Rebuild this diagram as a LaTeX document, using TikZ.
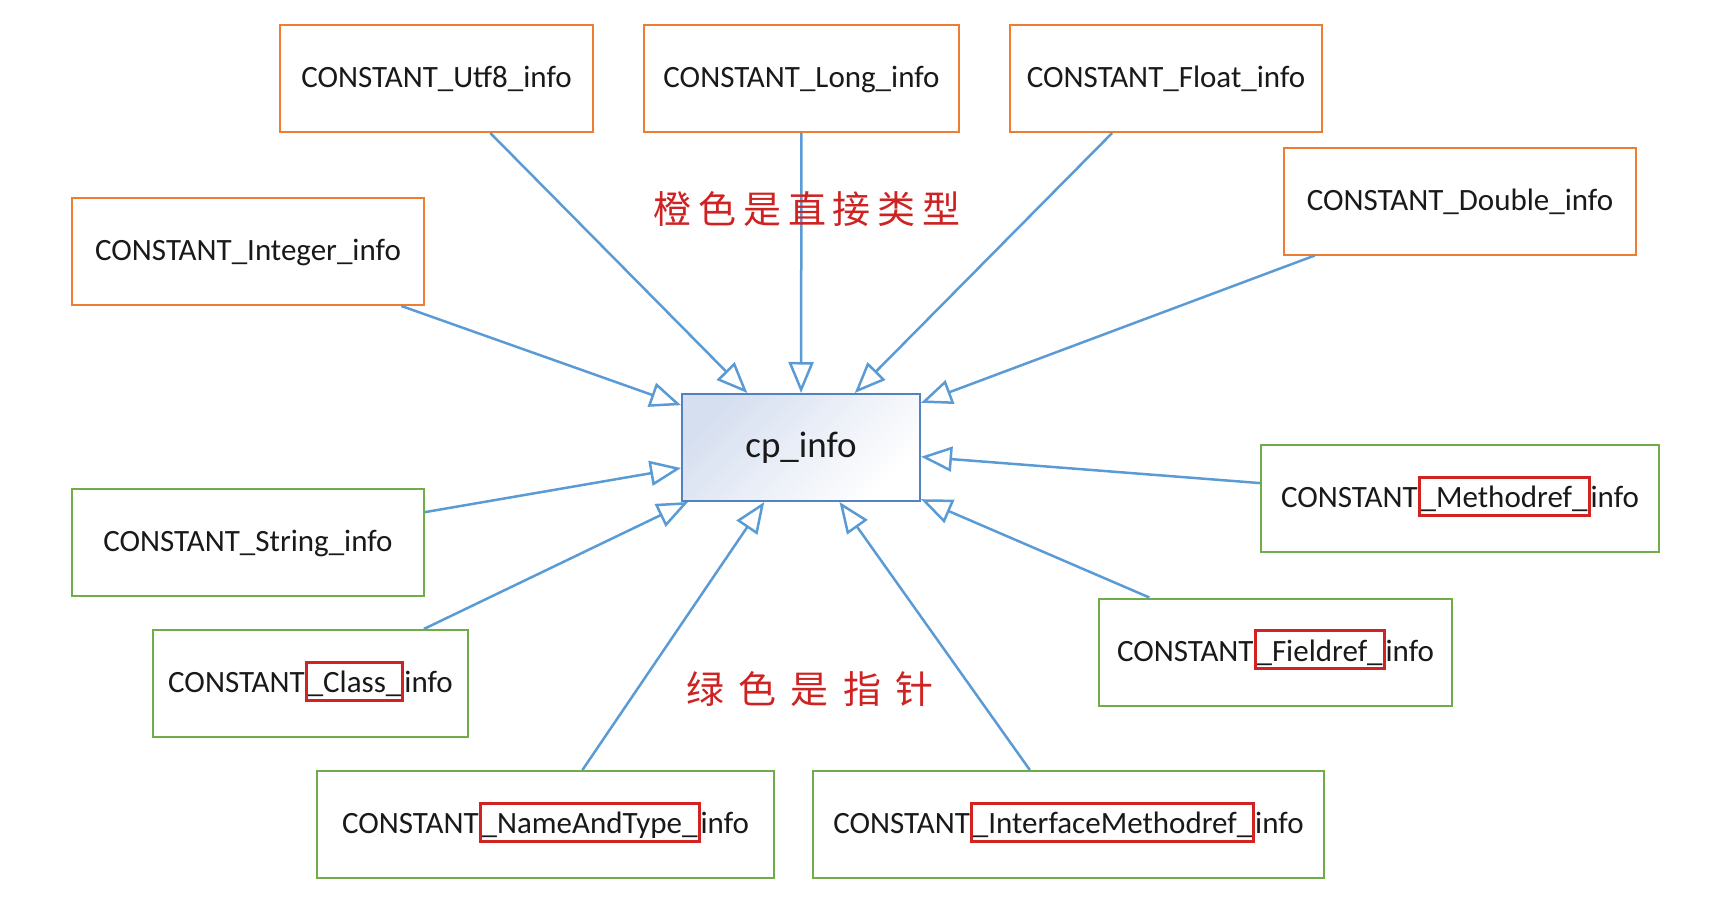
\documentclass[tikz,border=0pt]{standalone}
\usepackage{fontspec}
\setmainfont{Carlito}
\newfontfamily\cjkfont[LetterSpace=18]{Noto Sans CJK SC}
\newfontfamily\cjkwidefont[LetterSpace=38]{Noto Sans CJK SC}
\usetikzlibrary{arrows.meta}

\definecolor{boxorange}{RGB}{237,125,49}
\definecolor{boxgreen}{RGB}{112,173,71}
\definecolor{arrowblue}{RGB}{91,155,213}
\definecolor{cpborder}{RGB}{84,130,190}
\definecolor{cpfill}{RGB}{214,223,240}
\definecolor{hlred}{RGB}{210,35,35}
\definecolor{notered}{RGB}{205,35,35}

\newcommand{\redbox}[1]{{\setlength{\fboxsep}{0pt}\setlength{\fboxrule}{3pt}\fcolorbox{hlred}{white}{\rule[-6pt]{0pt}{35pt}#1}}}

\begin{document}
\begin{tikzpicture}[x=1pt, y=-1pt,
    entry/.style={draw, line width=2pt, minimum height=107pt, inner sep=0pt,
        text height=22pt, text depth=4pt, font=\fontsize{31}{36}\selectfont, text=black!90},
    direct/.style={entry, draw=boxorange},
    pointer/.style={entry, draw=boxgreen},
    link/.style={draw=arrowblue, line width=2.5pt, -{Triangle[open, length=31pt, width=25pt]}}]
        \useasboundingbox (0, 0) rectangle (1727, 902);

        \node (cp) at (801, 447.5) [draw=cpborder, line width=2pt, minimum width=238pt, minimum height=107pt,
            top color=cpfill, bottom color=white, shading angle=45, text=black!90,
            font=\fontsize{37}{44}\selectfont] {cp\_info};

        \node (utf8) at (436.5, 78.5) [direct, minimum width=313pt] {CONSTANT\_Utf8\_info};
        \node (long) at (801.5, 78.5) [direct, minimum width=315pt] {CONSTANT\_Long\_info};
        \node (float) at (1166, 78.5) [direct, minimum width=312pt] {CONSTANT\_Float\_info};
        \node (double) at (1460, 201) [direct, minimum width=352pt] {CONSTANT\_Double\_info};
        \node (integer) at (248, 251.5) [direct, minimum width=352pt] {CONSTANT\_Integer\_info};

        \node (string) at (248, 542.5) [pointer, minimum width=352pt] {CONSTANT\_String\_info};
        \node (class) at (310.5, 683.5) [pointer, minimum width=315pt] {CONSTANT\redbox{\_Class\_}info};
        \node (nameandtype) at (545.5, 824.5) [pointer, minimum width=457pt] {CONSTANT\redbox{\_NameAndType\_}info};
        \node (interface) at (1068.5, 824.5) [pointer, minimum width=511pt] {CONSTANT\redbox{\_InterfaceMethodref\_}info};
        \node (fieldref) at (1275.5, 652) [pointer, minimum width=353pt] {CONSTANT\redbox{\_Fieldref\_}info};
        \node (methodref) at (1460, 498.5) [pointer, minimum width=398pt] {CONSTANT\redbox{\_Methodref\_}info};

        \foreach \a in {utf8, long, float, double, integer}
            {\draw [link] (\a) -- (cp);}

        \foreach \a in {string, class, nameandtype, interface, fieldref, methodref}
            {\draw [link] (\a) -- (cp);}

        \node (directnote) at (807, 209) [text=notered, font=\cjkfont\fontsize{38}{44}\selectfont] {橙色是直接类型};
        \node (pointernote) at (810, 689) [text=notered, font=\cjkwidefont\fontsize{38}{44}\selectfont] {绿色是指针};
    \end{tikzpicture}
\end{document}
